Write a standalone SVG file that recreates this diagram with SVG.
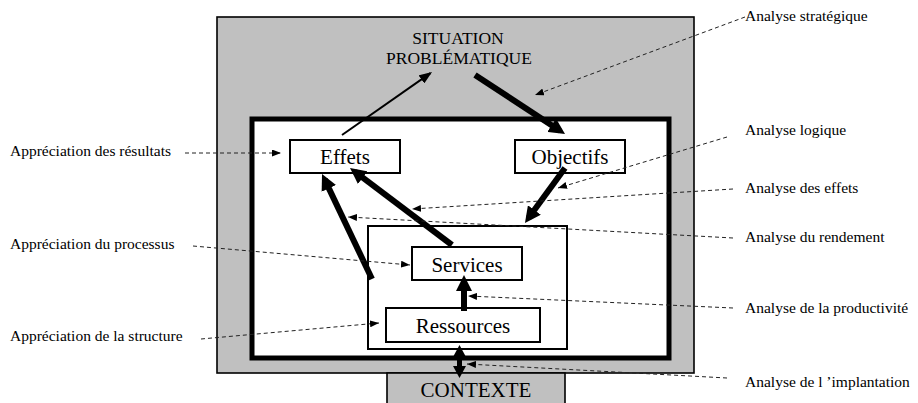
<svg xmlns="http://www.w3.org/2000/svg" width="918" height="403" viewBox="0 0 918 403" font-family="'Liberation Serif', 'Times New Roman', Times, serif">
  <style>
    text { font-family: "Liberation Serif", "Times New Roman", Times, serif; fill: #000; }
    .lbl { font-size: 15.5px; }
    .node { font-size: 21px; text-anchor: middle; }
    .title { font-size: 17.5px; text-anchor: middle; }
    .box { fill: #fff; stroke: #000; stroke-width: 2; }
    .gray { fill: #c0c0c0; stroke: #000; stroke-width: 1.6; }
    .thick { stroke: #000; stroke-width: 6; fill: none; }
    .thin { stroke: #000; stroke-width: 2; fill: none; }
    .dash { stroke: #222; stroke-width: 1; stroke-dasharray: 4 3; fill: none; }
  </style>
  <defs>
    <marker id="headBig" markerUnits="userSpaceOnUse" markerWidth="16" markerHeight="16" refX="10" refY="8" orient="auto">
      <path d="M0,0 L16,8 L0,16 z" fill="#000"/>
    </marker>
    <marker id="headMid" markerUnits="userSpaceOnUse" markerWidth="12" markerHeight="13" refX="7" refY="6.5" orient="auto-start-reverse">
      <path d="M0,0 L12,6.5 L0,13 z" fill="#000"/>
    </marker>
    <marker id="headThin" markerUnits="userSpaceOnUse" markerWidth="13" markerHeight="10" refX="11" refY="5" orient="auto">
      <path d="M0,0 L13,5 L0,10 z" fill="#000"/>
    </marker>
    <marker id="headDash" markerUnits="userSpaceOnUse" markerWidth="9" markerHeight="7" refX="9" refY="3.5" orient="auto">
      <path d="M0,0 L9,3.5 L0,7 z" fill="#000"/>
    </marker>
  </defs>

  <!-- environment frame -->
  <g id="situation">
    <rect class="gray" x="217" y="17" width="477" height="356"/>
    <text class="title" x="458" y="44">SITUATION</text>
    <text class="title" x="459" y="64">PROBLÉMATIQUE</text>
  </g>
  <g id="contexte">
    <rect class="gray" x="387" y="373" width="178" height="40"/>
    <text class="node" x="476" y="397">CONTEXTE</text>
  </g>
  <g id="programme">
    <rect x="252" y="119" width="417" height="239" fill="#fff" stroke="#000" stroke-width="5"/>
  </g>
  <g id="effets">
    <rect class="box" x="290" y="140" width="110" height="33"/>
    <text class="node" x="345" y="164">Effets</text>
  </g>
  <g id="objectifs">
    <rect class="box" x="515" y="140" width="110" height="33"/>
    <text class="node" x="570" y="164">Objectifs</text>
  </g>
  <g id="processus">
    <rect class="box" x="368" y="226" width="199" height="123" stroke-width="1.6"/>
  </g>
  <g id="services">
    <rect class="box" x="412" y="247" width="110" height="33"/>
    <text class="node" x="467" y="272">Services</text>
  </g>
  <g id="ressources">
    <rect class="box" x="386" y="308" width="154" height="34"/>
    <text class="node" x="463" y="333">Ressources</text>
  </g>

  <!-- side labels -->
  <g id="labels">
    <text class="lbl" x="10" y="156">Appréciation des résultats</text>
    <text class="lbl" x="10" y="249">Appréciation du processus</text>
    <text class="lbl" x="10" y="341">Appréciation de la structure</text>
    <text class="lbl" x="745" y="21">Analyse stratégique</text>
    <text class="lbl" x="745" y="135">Analyse logique</text>
    <text class="lbl" x="745" y="193">Analyse des effets</text>
    <text class="lbl" x="745" y="242">Analyse du rendement</text>
    <text class="lbl" x="745" y="313">Analyse de la productivité</text>
    <text class="lbl" x="745" y="387">Analyse de l ’implantation</text>
  </g>

  <!-- connectors -->
  <g id="connectors">
    <line class="thin" x1="342" y1="135" x2="430.4" y2="73.1" marker-end="url(#headThin)"/>
    <line class="thick" x1="475" y1="75" x2="560" y2="130.7" marker-end="url(#headBig)"/>
    <line class="thick" x1="565" y1="168" x2="528.5" y2="218.1" marker-end="url(#headBig)"/>
    <line class="thick" x1="452" y1="245" x2="354.8" y2="171.6" marker-end="url(#headBig)"/>
    <line class="thick" x1="372" y1="279" x2="324.6" y2="179.4" marker-end="url(#headBig)"/>
    <line class="thick" x1="464" y1="311" x2="464" y2="281" marker-end="url(#headBig)"/>
    <line x1="459.5" y1="350" x2="459.5" y2="373" stroke="#000" stroke-width="5" marker-start="url(#headMid)" marker-end="url(#headMid)"/>

    <line class="dash" x1="745" y1="17" x2="535" y2="95" marker-end="url(#headDash)"/>
    <line class="dash" x1="727" y1="137" x2="558" y2="188" marker-end="url(#headDash)"/>
    <line class="dash" x1="733" y1="189" x2="412" y2="209" marker-end="url(#headDash)"/>
    <line class="dash" x1="733" y1="238" x2="348" y2="217" marker-end="url(#headDash)"/>
    <line class="dash" x1="733" y1="308" x2="468" y2="296" marker-end="url(#headDash)"/>
    <line class="dash" x1="727" y1="378" x2="467" y2="364" marker-end="url(#headDash)"/>
    <line class="dash" x1="185" y1="153" x2="281" y2="153" marker-end="url(#headDash)"/>
    <line class="dash" x1="193" y1="246" x2="410" y2="265" marker-end="url(#headDash)"/>
    <line class="dash" x1="201" y1="339" x2="379" y2="323" marker-end="url(#headDash)"/>
  </g>
</svg>
